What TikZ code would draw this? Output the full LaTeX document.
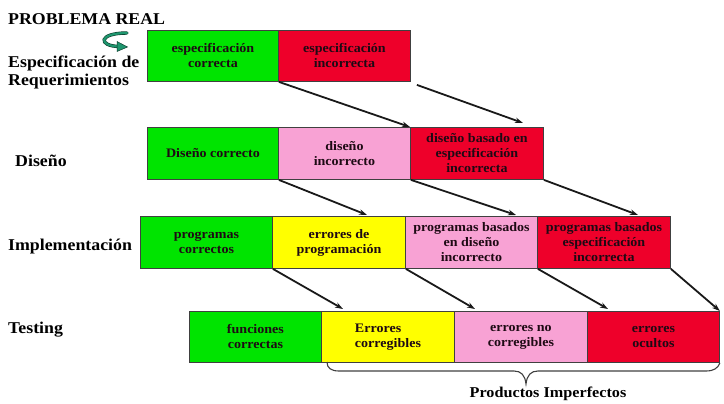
\documentclass[tikz,border=0pt]{standalone}
\usepackage{fontspec}
\setmainfont{Liberation Serif}[FakeStretch=1.08]
\usetikzlibrary{arrows.meta}
\definecolor{bgreen}{RGB}{0,228,0}
\definecolor{bred}{RGB}{238,0,42}
\definecolor{bpink}{RGB}{248,162,212}
\definecolor{byellow}{RGB}{255,255,0}
\definecolor{btext}{RGB}{30,10,20}
\definecolor{iconteal}{RGB}{30,150,110}
\tikzset{
  box/.style={draw=black!75, line width=0.9pt, minimum width=#1, minimum height=51,
    inner sep=0pt, align=center, anchor=north west, text=btext,
    font=\fontsize{13}{15}\selectfont\bfseries},
  box/.default=132,
  stage/.style={anchor=base west, inner sep=0pt, align=left,
    font=\fontsize{16.5}{18}\selectfont\bfseries},
  flow/.style={line width=1.8pt, black!90, -{Stealth[length=8pt,width=5.5pt]}},
}
\begin{document}
\begin{tikzpicture}[x=1pt,y=-1pt]
\useasboundingbox (0,0) rectangle (724,404);
% stage labels
\node[stage] (pr) at (8,25) {PROBLEMA REAL};
\node[stage] (er) at (8,86) {Especificación de\\[0.5pt]Requerimientos};
\node[stage] (di) at (15,167) {Diseño};
\node[stage] (im) at (8,250) {Implementación};
\node[stage] (te) at (8,333) {Testing};
% icon arrow
\draw[line width=3.4pt, black!60!iconteal, line cap=round] (127,33) .. controls (98,33) and (98,46) .. (119,46.5);
\draw[line width=2.2pt, iconteal, line cap=round] (127,33) .. controls (98,33) and (98,46) .. (119,46.5);
\fill[iconteal, draw=black!60!iconteal, line width=0.5pt] (117,41.5) -- (127.5,47) -- (117,51.5) -- cycle;
% row 1
\node[box=131, fill=bgreen] (s1) at (147,30) {especificación\\correcta};
\node[box=132, fill=bred] (s2) at (278,30) {especificación\\incorrecta};
% row 2
\node[box=131, fill=bgreen, minimum height=52] (d1) at (147,127) {Diseño correcto};
\node[box=132, fill=bpink, minimum height=52] (d2) at (278,127) {diseño\\incorrecto};
\node[box=133, fill=bred, minimum height=52] (d3) at (410,127) {diseño basado en\\especificación\\incorrecta};
% row 3
\node[box=132, fill=bgreen, minimum height=52] (i1) at (140,216) {programas\\correctos};
\node[box=133, fill=byellow, minimum height=52] (i2) at (272,216) {errores de\\programación};
\node[box=132, fill=bpink, minimum height=52] (i3) at (405,216) {programas basados\\en diseño\\incorrecto};
\node[box=133, fill=bred, minimum height=52] (i4) at (537,216) {programas basados\\especificación\\incorrecta};
% row 4
\node[box=132, fill=bgreen] (t1) at (189,311) {funciones\\correctas};
\node[box=133, fill=byellow] (t2) at (321,311) {\begin{tabular}{@{}l@{}}Errores\\corregibles\end{tabular}};
\node[box=133, fill=bpink] (t3) at (454,311) {errores no\\corregibles};
\node[box=132, fill=bred] (t4) at (587,311) {errores\\ocultos};
% free ends
\coordinate (e12) at (523,123);
\coordinate (e21) at (367,215);
\coordinate (e22) at (516,215);
\coordinate (e23) at (638,215);
\coordinate (e31) at (343,309);
\coordinate (e32) at (475,309);
\coordinate (e33) at (608,309);
\coordinate (bs) at (327,362);
\coordinate (bt) at (526,384);
% connectors
\draw[flow] (s1.south east) -- (d3.north west);
\draw[flow] ([shift={(6,3)}]s2.south east) -- (e12);
\draw[flow] (d1.south east) -- (e21);
\draw[flow] (d2.south east) -- (e22);
\draw[flow] (d3.south east) -- (e23);
\draw[flow] (i1.south east) -- (e31);
\draw[flow] (i2.south east) -- (e32);
\draw[flow] (i3.south east) -- (e33);
\draw[flow] (i4.south east) -- (t4.north east);
% brace
\draw[line width=1.1pt, black!75]
  (bs) .. controls (327,368) and (331,371) .. (339,371)
  -- (514,371) .. controls (521,371) and (525,375) .. (bt)
  .. controls (527,375) and (531,371) .. (538,371)
  -- (706,371) .. controls (714,371) and (718,368) .. (t4.south east);
\node[anchor=base, inner sep=0pt, font=\fontsize{15}{17}\selectfont\bfseries] (pi) at (548,397) {Productos Imperfectos};
\end{tikzpicture}
\end{document}
